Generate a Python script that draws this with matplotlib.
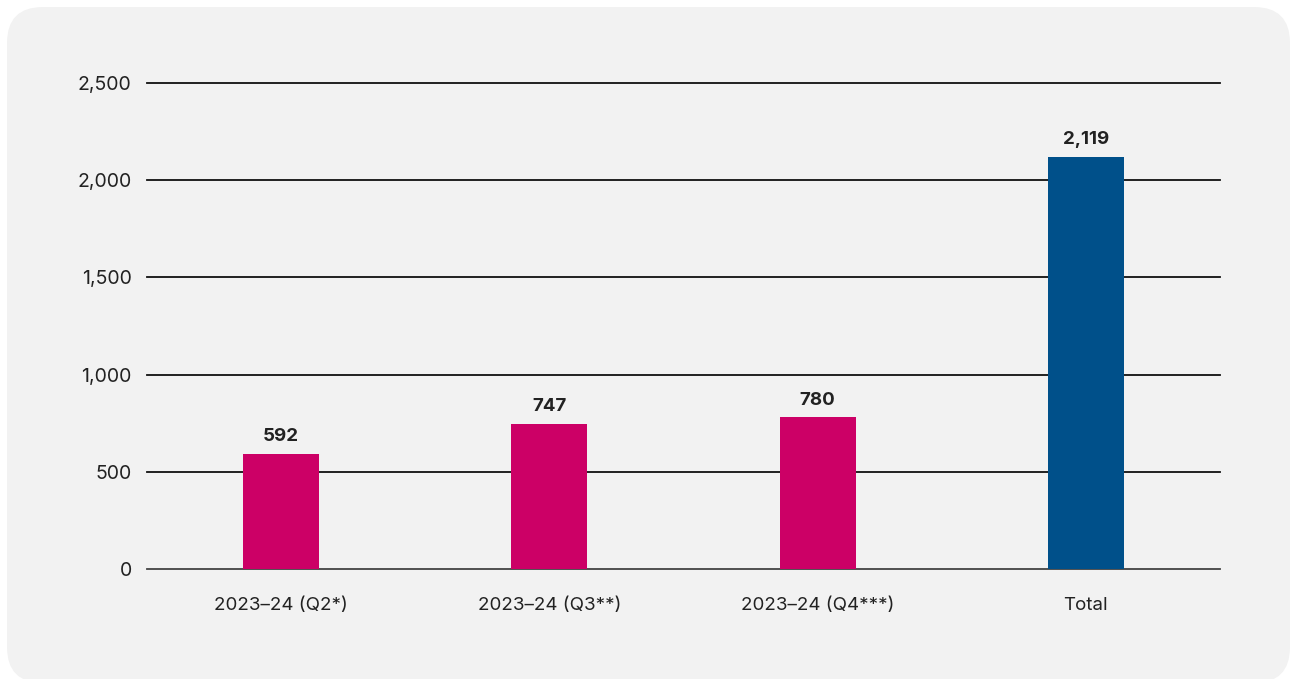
import matplotlib
matplotlib.use("Agg")
import matplotlib.pyplot as plt
from matplotlib.patches import FancyBboxPatch
from matplotlib.ticker import FuncFormatter

# data
categories = ["2023\u201324 (Q2*)", "2023\u201324 (Q3**)", "2023\u201324 (Q4***)", "Total"]
values = [592, 747, 780, 2119]
colors = ["#cc0066", "#cc0066", "#cc0066", "#00508a"]
yticks = [0, 500, 1000, 1500, 2000, 2500]

plt.rcParams["font.family"] = ["Inter", "DejaVu Sans"]

W, H = 1291, 679
fig = plt.figure(figsize=(W / 100, H / 100), dpi=100)
fig.patch.set_facecolor("white")

# rounded panel behind everything (pixel coords)
panel = FancyBboxPatch((7, -4), 1290 - 7, 676, boxstyle="round,pad=0,rounding_size=36",
                       transform=None, facecolor="#f2f2f2", edgecolor="none", zorder=0)
fig.patches.append(panel)

ax = fig.add_axes([147 / W, 1 - 569 / H, (1220 - 147) / W, (569 - 83) / H])
ax.set_facecolor("none")
ax.set_zorder(2)

x = range(len(categories))
ax.bar(x, values, width=0.283, color=colors, zorder=3)
for xi, v in zip(x, values):
    ax.text(xi, v + 45, f"{v:,}", ha="center", va="bottom",
            fontsize=13.5, fontweight="bold", color="#222222")

ax.set_xlim(-0.5, len(categories) - 0.5)
ax.set_ylim(0, 2500)
ax.set_yticks(yticks)
ax.yaxis.set_major_formatter(FuncFormatter(lambda v, p: f"{int(v):,}"))
ax.set_xticks(list(x))
ax.set_xticklabels(categories)

for t in yticks:
    ax.axhline(t, color="#111111" if t else "#444444", lw=1.3, zorder=1, clip_on=False)

for s in ax.spines.values():
    s.set_visible(False)
ax.tick_params(axis="both", length=0, labelsize=13.5, colors="#222222")
ax.tick_params(axis="y", pad=11, labelsize=14)
ax.tick_params(axis="x", pad=20)

fig.savefig("out.png", dpi=100)
